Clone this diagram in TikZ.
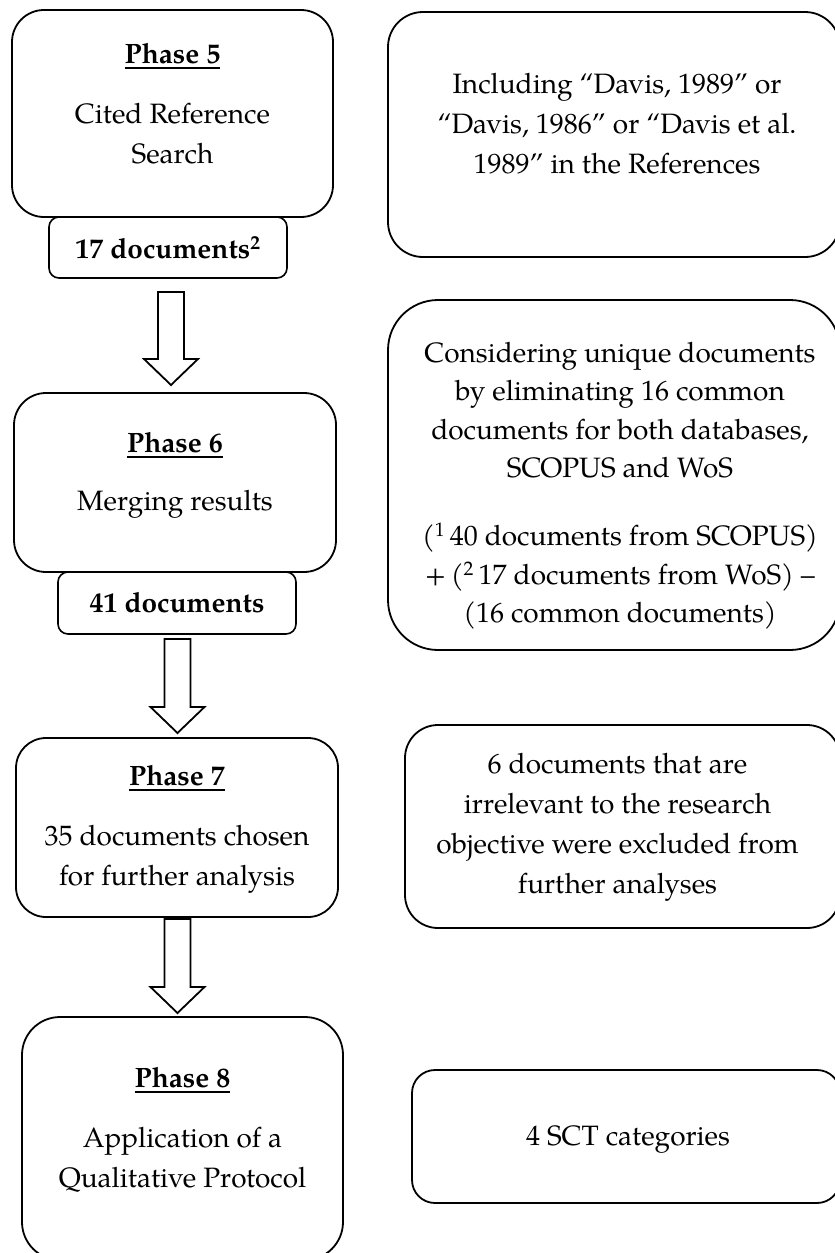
\documentclass[tikz,border=0pt]{standalone}
\usepackage{fontspec}
\setmainfont{TeX Gyre Pagella}
\usetikzlibrary{calc}
\newcommand\ulx[1]{\setbox0\hbox{#1}\rlap{\rule[-6pt]{\wd0}{1.8pt}}\box0}
\newcommand\blockarrow[2]{%
  \draw[blockarr] let \p1=(#1), \p2=(#2) in
    (\x1-13pt,\y1) -- (\x1+13pt,\y1) -- (\x1+13pt,\y2+26pt) -- (\x1+27pt,\y2+26pt)
    -- (\x1,\y2) -- (\x1-27pt,\y2+26pt) -- (\x1-13pt,\y2+26pt) -- cycle;}
\tikzset{
  boxshape/.style={draw, line width=1.8pt, inner sep=0pt, outer sep=0pt},
  smallbox/.style={draw, line width=1.6pt, inner sep=0pt, outer sep=0pt, rounded corners=10pt},
  txt/.style={align=center, inner sep=0pt, anchor=north, font=\fontsize{28}{40}\selectfont},
  txtr/.style={align=center, inner sep=0pt, anchor=north, font=\fontsize{28}{38.5}\selectfont},
  blockarr/.style={draw, line width=1.8pt, line join=miter, fill=white},
}
\begin{document}
\begin{tikzpicture}[x=1pt,y=-1pt]
\useasboundingbox[fill=white] (0,0) rectangle (835,1253);

% left column boxes
\node[boxshape, rounded corners=32pt, minimum width=321pt, minimum height=207pt] (p5) at (172.5,113.5) {};
\node[smallbox, minimum width=238pt, minimum height=61pt] (d17) at (168,247.5) {};
\node[boxshape, rounded corners=32pt, minimum width=322pt, minimum height=179pt] (p6) at (175,482.5) {};
\node[smallbox, minimum width=238pt, minimum height=62pt] (d41) at (177,603) {};
\node[boxshape, rounded corners=30pt, minimum width=322pt, minimum height=179pt] (p7) at (177,827.5) {};
\node[boxshape, rounded corners=38pt, minimum width=321pt, minimum height=243pt] (p8) at (182.5,1138.5) {};

% right column boxes
\node[boxshape, rounded corners=35pt, minimum width=452pt, minimum height=245pt] (r1) at (614,134.5) {};
\node[boxshape, rounded corners=50pt, minimum width=452pt, minimum height=350pt] (r2) at (614,475) {};
\node[boxshape, rounded corners=33pt, minimum width=435pt, minimum height=203pt] (r3) at (622.5,826.5) {};
\node[boxshape, rounded corners=23pt, minimum width=428pt, minimum height=133pt] (r4) at (626,1136.5) {};

% texts
\node[txt] (p5t) at (172.5,35) {\strut\ulx{\textbf{Phase 5}}\\[20pt]\strut Cited Reference\\\strut Search};
\node[txt] (d17t) at (168,230) {\strut\textbf{17 documents\textsuperscript{2}}};
\node[txt] (p6t) at (175,424) {\strut\ulx{\textbf{Phase 6}}\\[18pt]\strut Merging results};
\node[txt] (d41t) at (177,584) {\strut\textbf{41 documents}};
\node[txt] (p7t) at (177,757) {\strut\ulx{\textbf{Phase 7}}\\[20pt]\strut 35 documents chosen\\\strut for further analysis};
\node[txt] (p8t) at (182.5,1059) {\strut\ulx{\textbf{Phase 8}}\\[20pt]\strut Application of a\\\strut Qualitative Protocol};

\node[txt] (r1t) at (617,65) {\strut Including “Davis, 1989” or\\\strut “Davis, 1986” or “Davis et al.\\\strut 1989” in the References};
\node[txtr] (r2t) at (620,335) {\strut Considering unique documents\\\strut by eliminating 16 common\\\strut documents for both databases,\\\strut SCOPUS and WoS\\[29.5pt]\strut(\textsuperscript{1}\,40 documents from SCOPUS)\\\strut +\,(\textsuperscript{2}\,17 documents from WoS) –\\\strut (16 common documents)};
\node[txt] (r3t) at (617.5,745) {\strut 6 documents that are\\\strut irrelevant to the research\\\strut objective were excluded from\\\strut further analyses};
\node[txt] (r4t) at (628,1117) {\strut 4 SCT categories};

% block arrows
\coordinate (a1s) at (171,292);
\coordinate (a1e) at (171,385);
\coordinate (a2s) at (177.5,639);
\coordinate (a2e) at (177.5,733);
\coordinate (a3s) at (177.5,919);
\coordinate (a3e) at (177.5,1013);
\blockarrow{a1s}{a1e}
\blockarrow{a2s}{a2e}
\blockarrow{a3s}{a3e}
\end{tikzpicture}
\end{document}
